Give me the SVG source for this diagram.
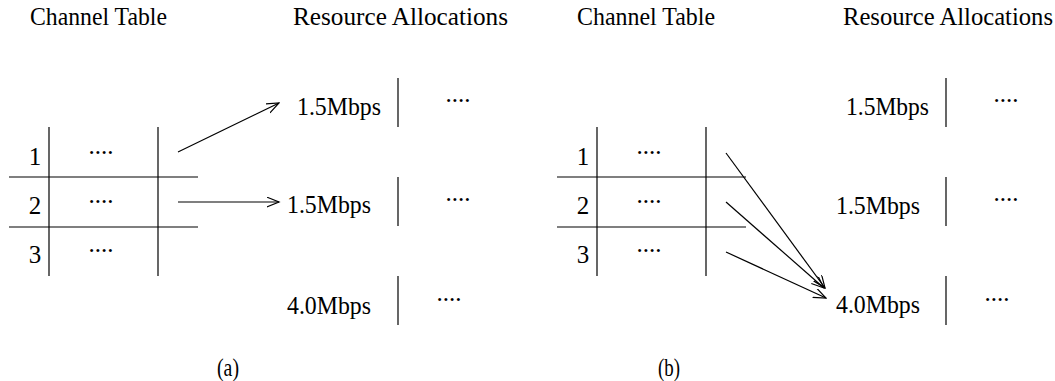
<svg xmlns="http://www.w3.org/2000/svg" width="1055" height="381" viewBox="0 0 1055 381">
<style>
text{font-family:'Liberation Serif','Tinos','Noto Serif','DejaVu Serif',serif;font-size:25px;fill:#000}
.mid{text-anchor:middle}
line{stroke:#000;stroke-width:1.2;fill:none}
.arr{marker-end:url(#ah)}
</style>
<defs>
<marker id="ah" markerUnits="userSpaceOnUse" markerWidth="14" markerHeight="12" refX="12.5" refY="5" orient="auto">
<path d="M0,0 L12.5,5 L0,10" fill="none" stroke="#000" stroke-width="1.2"/>
</marker>
</defs>
<rect width="1055" height="381" fill="#fff"/>
<!-- Panel (a) -->
<g id="a-headers">
<text x="30" y="25" textLength="137" lengthAdjust="spacingAndGlyphs">Channel Table</text>
<text x="293" y="25" textLength="215" lengthAdjust="spacingAndGlyphs">Resource Allocations</text>
</g>
<g id="a-channel-table">
<line x1="49" y1="127" x2="49" y2="276"/>
<line x1="158" y1="127" x2="158" y2="276"/>
<line x1="9" y1="177" x2="198" y2="177"/>
<line x1="9" y1="227" x2="198" y2="227"/>
<text class="mid" x="35" y="165">1</text>
<text class="mid" x="35" y="214">2</text>
<text class="mid" x="35" y="263">3</text>
<text class="mid" x="101" y="154">....</text>
<text class="mid" x="101" y="203">....</text>
<text class="mid" x="101" y="252">....</text>
</g>
<g id="a-alloc-1">
<text x="297" y="115" textLength="84" lengthAdjust="spacingAndGlyphs">1.5Mbps</text>
<line x1="398" y1="78" x2="398" y2="127"/>
<text class="mid" x="458" y="102">....</text>
</g>
<g id="a-alloc-2">
<text x="287" y="213" textLength="84" lengthAdjust="spacingAndGlyphs">1.5Mbps</text>
<line x1="398" y1="177" x2="398" y2="226"/>
<text class="mid" x="458" y="201">....</text>
</g>
<g id="a-alloc-3">
<text x="287" y="314" textLength="84" lengthAdjust="spacingAndGlyphs">4.0Mbps</text>
<line x1="398" y1="276" x2="398" y2="325"/>
<text class="mid" x="449" y="301">....</text>
</g>
<text id="a-caption" x="217" y="376" textLength="22" lengthAdjust="spacingAndGlyphs">(a)</text>
<!-- Panel (b) -->
<g id="b-headers">
<text x="577" y="25" textLength="138" lengthAdjust="spacingAndGlyphs">Channel Table</text>
<text x="843" y="25" textLength="210" lengthAdjust="spacingAndGlyphs">Resource Allocations</text>
</g>
<g id="b-channel-table">
<line x1="597" y1="127" x2="597" y2="276"/>
<line x1="706" y1="127" x2="706" y2="276"/>
<line x1="557" y1="177" x2="746" y2="177"/>
<line x1="557" y1="227" x2="746" y2="227"/>
<text class="mid" x="583" y="165">1</text>
<text class="mid" x="583" y="214">2</text>
<text class="mid" x="583" y="263">3</text>
<text class="mid" x="649" y="154">....</text>
<text class="mid" x="649" y="203">....</text>
<text class="mid" x="649" y="252">....</text>
</g>
<g id="b-alloc-1">
<text x="846" y="115" textLength="83" lengthAdjust="spacingAndGlyphs">1.5Mbps</text>
<line x1="946" y1="78" x2="946" y2="127"/>
<text class="mid" x="1006" y="102">....</text>
</g>
<g id="b-alloc-2">
<text x="836" y="214" textLength="84" lengthAdjust="spacingAndGlyphs">1.5Mbps</text>
<line x1="946" y1="177" x2="946" y2="226"/>
<text class="mid" x="1006" y="201">....</text>
</g>
<g id="b-alloc-3">
<text x="836" y="313" textLength="84" lengthAdjust="spacingAndGlyphs">4.0Mbps</text>
<line x1="946" y1="276" x2="946" y2="325"/>
<text class="mid" x="997" y="301">....</text>
</g>
<text id="b-caption" x="658" y="376" textLength="22" lengthAdjust="spacingAndGlyphs">(b)</text>
<g id="connectors">
<line class="arr" x1="178" y1="152" x2="279" y2="103"/>
<line class="arr" x1="178" y1="202" x2="279" y2="202"/>
<line class="arr" x1="726" y1="153" x2="825" y2="288"/>
<line class="arr" x1="726" y1="202" x2="824" y2="288"/>
<line class="arr" x1="726" y1="252" x2="826" y2="298"/>
</g>
</svg>
